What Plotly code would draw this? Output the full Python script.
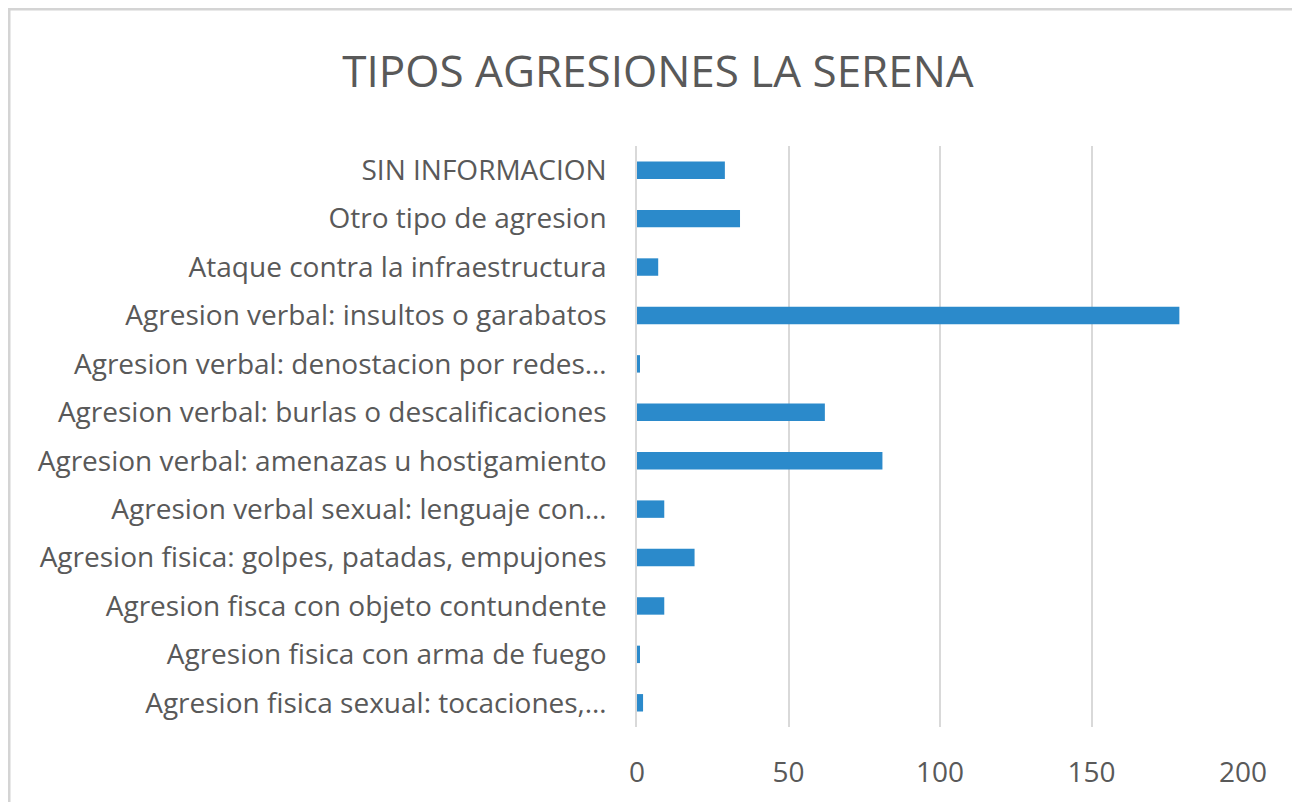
import plotly.graph_objects as go

categories = [
    "Agresion fisica sexual: tocaciones,…",
    "Agresion fisica con arma de fuego",
    "Agresion fisca con objeto contundente",
    "Agresion fisica: golpes, patadas, empujones",
    "Agresion verbal sexual: lenguaje con…",
    "Agresion verbal: amenazas u hostigamiento",
    "Agresion verbal: burlas o descalificaciones",
    "Agresion verbal: denostacion por redes…",
    "Agresion verbal: insultos o garabatos",
    "Ataque contra la infraestructura",
    "Otro tipo de agresion",
    "SIN INFORMACION",
]
values = [2, 1, 9, 19, 9, 81, 62, 1, 179, 7, 34, 29]
x_ticks = [0, 50, 100, 150, 200]

# page has an 8px body margin; figure coordinates are screen minus 8
OFF = 8
W, H = 1292, 794
L = 637 - OFF
T = 146 - OFF
R = W - (1243 - OFF)
B = H - (727 - OFF)
pw, ph = W - L - R, H - T - B

def px_x(p):
    return (p - L) / pw

def px_y(p):
    return (H - B - p) / ph

fig = go.Figure(go.Bar(
    x=values, y=categories, orientation="h",
    marker=dict(color="#2B8ACB", line=dict(width=0)),
    width=0.36,
))

fig.update_layout(
    width=W, height=H,
    margin=dict(l=L, r=R, t=T, b=B),
    paper_bgcolor="white", plot_bgcolor="white",
    showlegend=False,
    title=dict(text="TIPOS AGRESIONES LA SERENA", x=(658 - OFF) / W, xanchor="center",
               y=1 - (72 - OFF) / H, yanchor="middle",
               font=dict(family="Open Sans", size=44, color="#595959")),
    font=dict(family="Open Sans", color="#595959"),
    shapes=[dict(type="rect", xref="paper", yref="paper",
                 x0=px_x(1), x1=px_x(W + 10), y0=px_y(1), y1=px_y(H + 10),
                 line=dict(color="#D4D4D4", width=3), fillcolor="rgba(0,0,0,0)", layer="below")],
)
fig.update_xaxes(range=[0, 200], tickvals=x_ticks, showgrid=True, gridcolor="#D9D9D9", gridwidth=1.5,
                 zeroline=False, showline=False, ticks="outside", ticklen=20,
                 tickcolor="rgba(0,0,0,0)", tickfont=dict(size=28, color="#595959"), fixedrange=True)
fig.update_yaxes(categoryorder="array", categoryarray=categories, showgrid=False, zeroline=False,
                 showline=True, linecolor="#D9D9D9", linewidth=1.5,
                 ticks="outside", ticklen=23, tickcolor="rgba(0,0,0,0)",
                 tickfont=dict(size=28, color="#595959"))

fig.write_html("out.html")
